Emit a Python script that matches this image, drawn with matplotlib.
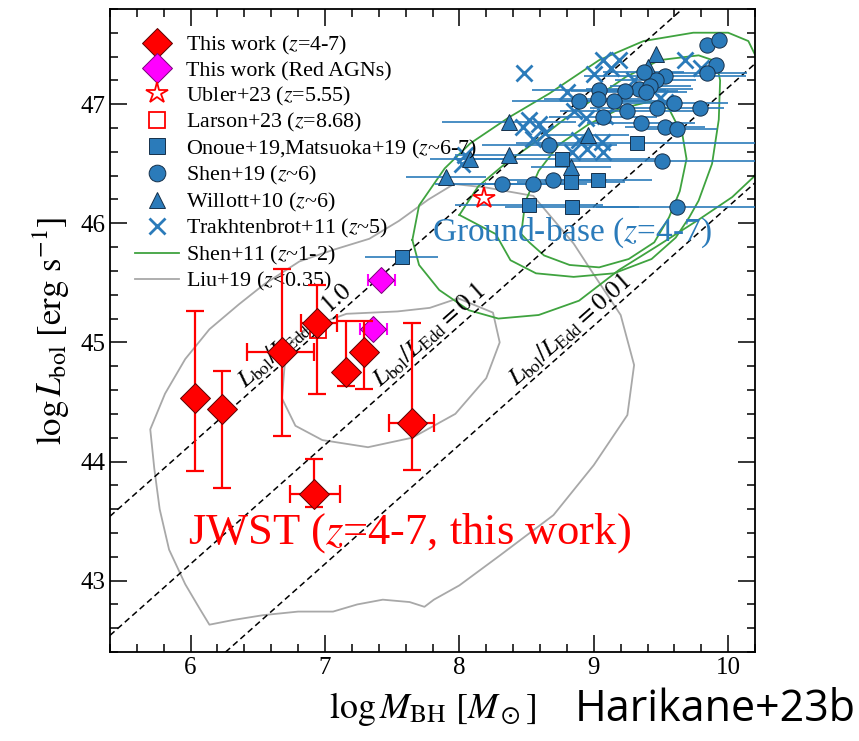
import numpy as np
import matplotlib.pyplot as plt

plt.rcParams['font.family'] = ['Liberation Serif', 'DejaVu Serif']
plt.rcParams['mathtext.fontset'] = 'stix'

# --- This work (z=4-7) ---
tw_m = [6.03, 6.23, 6.68, 6.94, 7.16, 7.29, 7.65, 6.92]
tw_l = [44.53, 44.44, 44.92, 45.16, 44.75, 44.92, 44.32, 43.73]
tw_l_lo = [0.61, 0.66, 0.71, 0.59, 0.12, 0.31, 0.39, 0.11]
tw_l_hi = [0.73, 0.32, 0.70, 0.32, 0.43, 0.26, 0.84, 0.29]
tw_m_lo = [0.0, 0.0, 0.26, 0.12, 0.0, 0.0, 0.175, 0.18]
tw_m_hi = [0.0, 0.0, 0.24, 0.15, 0.0, 0.0, 0.16, 0.19]

# --- Red AGNs ---
rag_m = [7.42, 7.36]
rag_l = [45.52, 45.11]
rag_m_err = [0.10, 0.10]

# --- other JWST ---
ubler_m, ubler_l = [8.18], [46.21]
larson_m, larson_l = [6.95], [45.10]

# --- ground based ---
onoue_m = [7.57, 8.52, 8.84, 8.83, 9.03, 9.32, 8.76]
onoue_l = [45.72, 46.15, 46.14, 46.35, 46.36, 46.67, 46.54]
onoue_err = [0.27, 0.55, 0.50, 0.40, 0.40, 0.90, 0.80]

shen19_m = [9.84, 9.93, 9.91, 9.84, 9.53, 9.46, 9.37, 9.34, 9.42, 9.39,
            9.23, 9.04, 8.89, 9.03, 9.15, 9.25, 9.47, 9.60, 9.79, 9.07,
            9.35, 9.53, 9.62, 9.51, 9.62, 8.67, 8.32, 8.55, 8.70]
shen19_l = [47.50, 47.54, 47.33, 47.26, 47.24, 47.20, 47.27, 47.13, 47.15, 47.10,
            47.11, 47.12, 47.03, 47.04, 47.03, 46.94, 46.97, 47.01, 46.97, 46.89,
            46.84, 46.81, 46.79, 46.52, 46.14, 46.66, 46.33, 46.33, 46.36]
shen19_err = [0.0, 0.0, 0.0, 0.3, 0.6, 0.3, 0.3, 0.4, 0.3, 0.3,
              0.4, 0.5, 0.5, 0.4, 0.4, 0.5, 0.5, 0.4, 0.0, 0.4,
              0.4, 0.3, 0.3, 0.7, 0.6, 0.5, 0.5, 0.4, 0.4]

willott_m = [8.37, 8.37, 8.08, 7.90, 8.83, 8.96, 9.46, 9.40]
willott_l = [46.85, 46.57, 46.54, 46.39, 46.47, 46.74, 47.42, 47.31]
willott_err = [0.5, 0.4, 0.3, 0.3, 0.3, 0.3, 0.0, 0.0]

trak_m = [8.48, 9.07, 9.19, 9.13, 9.68, 9.80, 8.80, 8.85, 8.94, 9.08,
          8.52, 8.59, 8.47, 8.55, 8.64, 8.89, 9.06, 9.07, 8.84, 8.95,
          8.02, 8.04, 9.53, 9.49, 9.30, 9.00]
trak_l = [47.26, 47.37, 47.37, 47.30, 47.37, 47.30, 47.10, 46.94, 46.88, 46.90,
          46.87, 46.83, 46.81, 46.71, 46.76, 46.70, 46.68, 46.60, 46.60, 46.62,
          46.50, 46.57, 47.02, 47.05, 47.20, 47.25]

# --- Shen+11 contours (z~1-2) ---
shen11_outer_m = [7.65, 7.70, 7.89, 8.08, 8.37, 8.67, 9.04, 9.37, 9.74, 10.0, 10.15, 10.25,
                  10.25, 10.19, 10.03, 9.78, 9.46, 9.19, 8.89, 8.59, 8.29, 8.07, 7.85, 7.70, 7.65]
shen11_outer_l = [45.86, 46.15, 46.46, 46.67, 46.89, 47.09, 47.37, 47.53, 47.60, 47.60, 47.53, 47.30,
                  46.50, 46.39, 46.22, 46.03, 45.80, 45.61, 45.35, 45.23, 45.20, 45.27, 45.44, 45.65, 45.86]
shen11_mid_m = [8.00, 8.14, 8.34, 8.55, 8.80, 9.24, 9.49, 9.78, 9.91, 9.94, 9.93, 9.88,
                9.78, 9.71, 9.61, 9.43, 9.15, 8.85, 8.57, 8.38, 8.27, 8.00]
shen11_mid_l = [46.07, 46.31, 46.50, 46.67, 46.89, 47.23, 47.37, 47.41, 47.36, 47.20, 46.87, 46.50,
                46.19, 46.05, 45.88, 45.70, 45.58, 45.55, 45.58, 45.69, 45.91, 46.07]
shen11_in_m = [8.46, 8.49, 8.59, 8.74, 8.96, 9.19, 9.41, 9.56, 9.66, 9.69, 9.64, 9.56,
               9.45, 9.26, 9.04, 8.82, 8.63, 8.52, 8.46]
shen11_in_l = [45.91, 46.18, 46.44, 46.66, 46.83, 46.96, 47.02, 46.96, 46.74, 46.54, 46.27, 46.05,
               45.84, 45.70, 45.63, 45.65, 45.73, 45.84, 45.91]

# --- Liu+19 contours (z<0.35) ---
liu_outer_m = [7.96, 7.77, 7.55, 7.33, 7.07, 6.81, 6.55, 6.36, 6.14, 5.96, 5.81, 5.70,
               5.73, 5.77, 5.84, 5.96, 6.07, 6.14, 6.32, 6.54, 6.80, 7.06, 7.24, 7.43,
               7.63, 7.74, 7.81, 8.00, 8.30, 8.70, 9.00, 9.25, 9.30, 9.20, 9.00, 8.85,
               8.55, 8.20, 7.96]
liu_outer_l = [46.33, 46.20, 46.02, 45.87, 45.78, 45.68, 45.49, 45.32, 45.11, 44.86, 44.57, 44.27,
               43.94, 43.60, 43.26, 42.97, 42.76, 42.63, 42.67, 42.71, 42.74, 42.74, 42.80, 42.84,
               42.82, 42.78, 42.84, 42.96, 43.21, 43.55, 43.97, 44.39, 44.81, 45.23, 45.57, 45.83,
               46.23, 46.30, 46.33]
liu_in_m = [7.99, 7.78, 7.54, 7.16, 6.89, 6.75, 6.70, 6.68, 6.78, 6.98, 7.32, 7.65,
            7.97, 8.20, 8.30, 8.25, 7.99]
liu_in_l = [45.37, 45.29, 45.26, 45.24, 45.13, 45.01, 44.81, 44.53, 44.30, 44.18, 44.12, 44.20,
            44.40, 44.70, 45.00, 45.25, 45.37]

# Eddington ratio lines
edd_ratio = [1.0, 0.1, 0.01]
edd_label = ['1.0', '0.1', '0.01']
edd_label_m = [6.84, 7.84, 8.88]
log_ledd_coef = 38.14

blue = '#2b7bba'
fig = plt.figure(figsize=(8.59, 7.41), dpi=100)
ax = fig.add_axes([0.128, 0.120, 0.751, 0.868])

# contours
ax.plot(liu_outer_m, liu_outer_l, color='#a8a8a8', lw=1.3, zorder=1)
ax.plot(liu_in_m, liu_in_l, color='#a8a8a8', lw=1.3, zorder=1)
for cm, cl in [(shen11_outer_m, shen11_outer_l), (shen11_mid_m, shen11_mid_l), (shen11_in_m, shen11_in_l)]:
    ax.plot(cm, cl, color='#3fa33f', lw=1.3, zorder=1)

# constant Eddington ratio lines
for r, lab, lm in zip(edd_ratio, edd_label, edd_label_m):
    c = log_ledd_coef + np.log10(r)
    ax.axline((0, c), slope=1, color='k', ls=(0, (4, 2.5)), lw=1.1, zorder=2)
    ax.text(lm, lm + c, r'$L_{\rm bol}/L_{\rm Edd}=' + lab + '$', rotation=45,
            transform_rotates_text=True, rotation_mode='anchor', ha='center', va='bottom',
            fontsize=18, zorder=2)

# ground based
ax.errorbar(onoue_m, onoue_l, xerr=onoue_err, fmt='none', ecolor=blue, elinewidth=1.2, zorder=3)
ax.errorbar(shen19_m, shen19_l, xerr=shen19_err, fmt='none', ecolor=blue, elinewidth=1.2, zorder=3)
ax.errorbar(willott_m, willott_l, xerr=willott_err, fmt='none', ecolor=blue, elinewidth=1.2, zorder=3)
ax.plot(trak_m, trak_l, 'x', color=blue, ms=12, mew=2, zorder=4)
ax.plot(willott_m, willott_l, '^', color=blue, mec='#16304a', mew=0.7, ms=11, zorder=4)
ax.plot(shen19_m, shen19_l, 'o', color=blue, mec='#16304a', mew=0.7, ms=11, zorder=4)
ax.plot(onoue_m, onoue_l, 's', color=blue, mec='#16304a', mew=0.7, ms=10, zorder=4)

# JWST
ax.plot(larson_m, larson_l, 's', mfc='none', mec='red', mew=1.3, ms=11, zorder=5)
ax.plot(ubler_m, ubler_l, '*', mfc='white', mec='red', mew=1.3, ms=16, zorder=5)
ax.errorbar(rag_m, rag_l, xerr=rag_m_err, fmt='none', ecolor='magenta', elinewidth=1.5,
            capsize=4, capthick=1.5, zorder=5)
ax.plot(rag_m, rag_l, 'D', color='magenta', mec='#7a007a', mew=0.7, ms=13, zorder=6)
ax.errorbar(tw_m, tw_l, xerr=[tw_m_lo, tw_m_hi], yerr=[tw_l_lo, tw_l_hi], fmt='none',
            ecolor='red', elinewidth=1.6, capsize=6.5, capthick=1.6, zorder=6)
ax.plot(tw_m, tw_l, 'D', color='red', mec='#5a0000', mew=0.7, ms=15, zorder=7)

# legend handles
h = []
h += ax.plot([], [], 'D', color='red', mec='#5a0000', mew=0.7, ms=15, label=r'This work ($z$=4-7)')
h += ax.plot([], [], 'D', color='magenta', mec='#7a007a', mew=0.7, ms=15, label='This work (Red AGNs)')
h += ax.plot([], [], '*', mfc='white', mec='red', mew=1.3, ms=16, label=r'Ubler+23 ($z$=5.55)')
h += ax.plot([], [], 's', mfc='none', mec='red', mew=1.3, ms=11, label=r'Larson+23 ($z$=8.68)')
h += ax.plot([], [], 's', color=blue, mec='#16304a', mew=0.7, ms=11, label=r'Onoue+19,Matsuoka+19 ($z$~6-7)')
h += ax.plot([], [], 'o', color=blue, mec='#16304a', mew=0.7, ms=12, label=r'Shen+19 ($z$~6)')
h += ax.plot([], [], '^', color=blue, mec='#16304a', mew=0.7, ms=12, label=r'Willott+10 ($z$~6)')
h += ax.plot([], [], 'x', color=blue, ms=12, mew=2, label=r'Trakhtenbrot+11 ($z$~5)')
h += ax.plot([], [], '-', color='#3fa33f', lw=1.3, label=r'Shen+11 ($z$~1-2)')
h += ax.plot([], [], '-', color='#a8a8a8', lw=1.3, label=r'Liu+19 ($z$<0.35)')
ax.legend(handles=h, loc='upper left', frameon=False, fontsize=15.8, handlelength=2.0,
          handletextpad=0.3, labelspacing=0.16, borderaxespad=0.6, borderpad=0.55)

ax.text(8.84, 45.92, r'Ground-base ($z$=4-7)', color=blue, fontsize=24, ha='center', va='center', zorder=8)
ax.text(7.63, 43.40, r'JWST ($z$=4-7, this work)', color='red', fontsize=32, ha='center', va='center', zorder=8)

ax.set_xlim(5.4, 10.2)
ax.set_ylim(42.4, 47.8)
ax.set_xticks([6, 7, 8, 9, 10])
ax.set_yticks([43, 44, 45, 46, 47])
ax.xaxis.set_minor_locator(plt.MultipleLocator(0.2))
ax.yaxis.set_minor_locator(plt.MultipleLocator(0.2))
ax.tick_params(which='both', direction='in', top=True, right=True, labelsize=18, width=1.1)
ax.tick_params(which='major', length=12.5)
ax.tick_params(which='minor', length=6)
for s in ax.spines.values():
    s.set_linewidth(1.3)
ax.set_xlabel(r'$\log M_{\rm BH}\ [M_\odot]$', fontsize=26, labelpad=8)
ax.set_ylabel(r'$\log L_{\rm bol}\ [{\rm erg\ s^{-1}}]$', fontsize=25, labelpad=6)

fig.text(0.996, 0.012, 'Harikane+23b', fontsize=31, family='Open Sans', ha='right', va='bottom')

fig.savefig('out.png', dpi=100)
